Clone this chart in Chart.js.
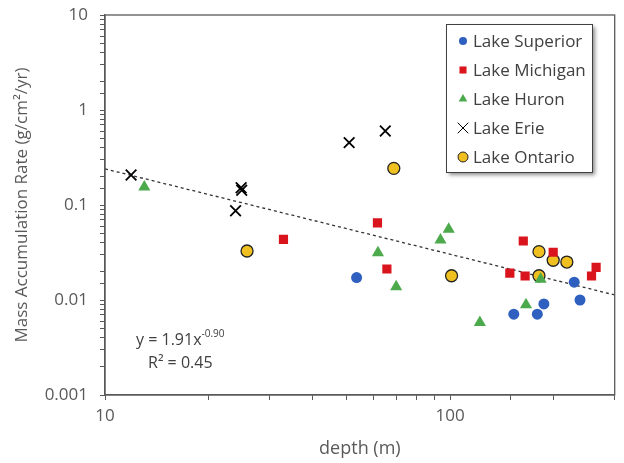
<!DOCTYPE html>
<html>
<head>
<meta charset="utf-8">
<script src="https://cdn.jsdelivr.net/npm/chart.js"></script>
<style>
  html, body { margin: 0; padding: 0; background: #fff; }
  #wrap { width: 624px; height: 463px; }
</style>
</head>
<body>
<div id="wrap"><canvas id="marChart" width="624" height="463"></canvas></div>
<script>
// depth (m) / mass accumulation rate (g/cm2/yr)
const superiorX = [53.6, 153, 179, 187, 229, 238];
const superiorY = [0.0172, 0.0071, 0.0071, 0.0091, 0.0154, 0.0100];

const michiganX = [32.9, 61.6, 65.6, 149, 163, 165, 199, 257, 265];
const michiganY = [0.0435, 0.0647, 0.0212, 0.0192, 0.0418, 0.0179, 0.0318, 0.0179, 0.0221];

const huronX = [13.0, 61.8, 69.8, 93.8, 99.1, 122, 166, 183];
const huronY = [0.155, 0.0315, 0.0138, 0.0428, 0.0555, 0.0058, 0.0089, 0.0165];

const erieX = [11.9, 24.8, 24.9, 23.9, 51.0, 64.9];
const erieY = [0.207, 0.152, 0.143, 0.087, 0.453, 0.601];

const ontarioX = [25.8, 68.7, 101, 181, 199, 218, 181];
const ontarioY = [0.0328, 0.243, 0.018, 0.0323, 0.0262, 0.0251, 0.018];

// power-law fit y = 1.91x^-0.90, end points as drawn
const trendX = [10, 300];
const trendY = [0.24, 0.0113];

const xTickLabels = ['10', '100'];
const yTickLabels = ['0.001', '0.01', '0.1', '1', '10'];

const pts = (xs, ys) => xs.map((x, i) => ({ x: x, y: ys[i] }));

const FONT = "'Open Sans', sans-serif";
const AXIS = '#595959';
const TEXT = '#595959';

const isDecade = v => Math.abs(Math.log10(v) - Math.round(Math.log10(v))) < 1e-6;

// frame round the plot area
const framePlugin = {
    id: 'frame',
    afterDraw(chart) {
        const a = chart.chartArea;
        const ctx = chart.ctx;
        ctx.save();
        ctx.strokeStyle = AXIS;
        ctx.lineWidth = 1.3;
        ctx.strokeRect(a.left, a.top, a.right - a.left, a.bottom - a.top);
        ctx.restore();
    }
};

// fit equation text
const equationPlugin = {
    id: 'equation',
    afterDraw(chart) {
        const ctx = chart.ctx;
        ctx.save();
        ctx.fillStyle = '#404040';
        ctx.textBaseline = 'middle';
        ctx.font = '16px ' + FONT;
        const main = 'y = 1.91x';
        ctx.fillText(main, 136, 340);
        const w = ctx.measureText(main).width;
        ctx.font = '10px ' + FONT;
        ctx.fillText('-0.90', 136 + w, 334);
        ctx.font = '16px ' + FONT;
        ctx.fillText('R\u00b2 = 0.45', 148, 363);
        ctx.restore();
    }
};

// boxed legend inside the plot, with a drop shadow
const boxLegendPlugin = {
    id: 'boxLegend',
    afterDraw(chart) {
        const ctx = chart.ctx;
        const box = { x: 446, y: 24, w: 146, h: 148 };
        ctx.save();
        ctx.shadowColor = 'rgba(0,0,0,0.45)';
        ctx.shadowBlur = 4;
        ctx.shadowOffsetX = 3;
        ctx.shadowOffsetY = 3;
        ctx.fillStyle = '#fff';
        ctx.fillRect(box.x, box.y, box.w, box.h);
        ctx.restore();

        ctx.save();
        ctx.strokeStyle = '#404040';
        ctx.lineWidth = 1;
        ctx.strokeRect(box.x + 0.5, box.y + 0.5, box.w, box.h);
        ctx.font = '17px ' + FONT;
        ctx.textBaseline = 'middle';
        let row = 0;
        chart.data.datasets.forEach(ds => {
            if (ds.type === 'line') return;
            const y = 41 + row * 29;
            ctx.fillStyle = ds.backgroundColor;
            ctx.strokeStyle = ds.borderColor;
            Chart.helpers.drawPoint(ctx, {
                pointStyle: ds.pointStyle,
                radius: ds.legendRadius,
                rotation: 0,
                borderWidth: ds.pointBorderWidth
            }, 463, y);
            ctx.fillStyle = '#404040';
            ctx.fillText(ds.label, 473, y + 1);
            row++;
        });
        ctx.restore();
    }
};

const ctxMar = document.getElementById('marChart').getContext('2d');

const marChart = new Chart(ctxMar, {
    type: 'scatter',
    data: {
        datasets: [{
            label: 'Lake Superior',
            data: pts(superiorX, superiorY),
            pointStyle: 'circle',
            pointRadius: 5.5,
            backgroundColor: '#2f5fbf',
            borderColor: '#2f5fbf',
            pointBorderWidth: 0,
            legendRadius: 4
        }, {
            label: 'Lake Michigan',
            data: pts(michiganX, michiganY),
            pointStyle: 'rect',
            pointRadius: 6.5,
            backgroundColor: '#d9141c',
            borderColor: '#d9141c',
            pointBorderWidth: 0,
            legendRadius: 5
        }, {
            label: 'Lake Huron',
            data: pts(huronX, huronY),
            pointStyle: 'triangle',
            pointRadius: 7,
            backgroundColor: '#4caa4c',
            borderColor: '#4caa4c',
            pointBorderWidth: 0,
            legendRadius: 5
        }, {
            label: 'Lake Erie',
            data: pts(erieX, erieY),
            pointStyle: 'crossRot',
            pointRadius: 7.5,
            backgroundColor: '#000',
            borderColor: '#000',
            pointBorderWidth: 1.8,
            legendRadius: 7.5
        }, {
            label: 'Lake Ontario',
            data: pts(ontarioX, ontarioY),
            pointStyle: 'circle',
            pointRadius: 6,
            backgroundColor: '#f0c020',
            borderColor: '#222',
            pointBorderWidth: 1.3,
            legendRadius: 5
        }, {
            type: 'line',
            label: 'fit',
            data: pts(trendX, trendY),
            borderColor: '#333',
            borderWidth: 1.3,
            borderDash: [3, 3],
            pointRadius: 0,
            fill: false,
            order: 10
        }]
    },
    options: {
        responsive: false,
        animation: false,
        layout: { padding: { top: 15, right: 2, left: 0, bottom: 0 } },
        plugins: {
            legend: { display: false },
            tooltip: { enabled: false }
        },
        scales: {
            x: {
                type: 'logarithmic',
                min: 10,
                max: 300,
                afterFit: scale => {
                    scale.height = 68;
                    scale.paddingLeft = 0;
                    scale.paddingRight = 0;
                },
                border: { color: AXIS, width: 1.3 },
                grid: { drawOnChartArea: false, drawTicks: true, tickLength: 5, color: AXIS },
                ticks: {
                    autoSkip: false,
                    maxRotation: 0,
                    padding: 6,
                    color: TEXT,
                    font: { family: FONT, size: 17 },
                    callback: value => isDecade(value) ? xTickLabels[Math.round(Math.log10(value)) - 1] : ''
                },
                title: {
                    display: true,
                    text: 'depth (m)',
                    color: TEXT,
                    font: { family: FONT, size: 18 },
                    padding: { top: 3, bottom: 3 }
                }
            },
            y: {
                type: 'logarithmic',
                min: 0.001,
                max: 10,
                afterFit: scale => {
                    scale.width = 105;
                    scale.paddingTop = 0;
                    scale.paddingBottom = 0;
                },
                border: { color: AXIS, width: 1.3 },
                grid: { drawOnChartArea: false, drawTicks: true, tickLength: 5, color: AXIS },
                ticks: {
                    autoSkip: false,
                    padding: 12,
                    color: TEXT,
                    font: { family: FONT, size: 17 },
                    callback: value => isDecade(value) ? yTickLabels[Math.round(Math.log10(value)) + 3] : ''
                },
                title: {
                    display: true,
                    text: 'Mass Accumulation Rate (g/cm\u00b2/yr)',
                    color: TEXT,
                    font: { family: FONT, size: 17 },
                    padding: { top: 12, bottom: 12 }
                }
            }
        }
    },
    plugins: [framePlugin, equationPlugin, boxLegendPlugin]
});
</script>
</body>
</html>
